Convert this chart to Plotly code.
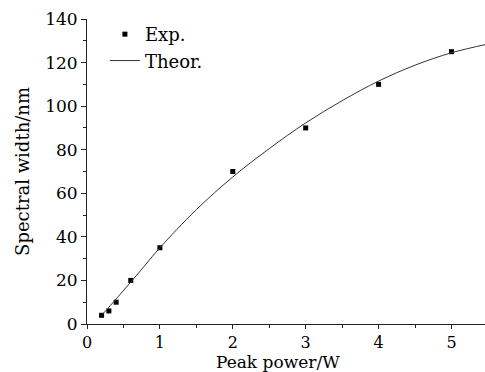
import plotly.graph_objects as go

# Experimental data
exp_power = [0.2, 0.3, 0.4, 0.6, 1.0, 2.0, 3.0, 4.0, 5.0]
exp_width = [4, 6, 10, 20, 35, 70, 90, 110, 125]

# Theoretical curve
theo_power = [0.2, 0.4, 0.6, 0.8, 1.0, 1.5, 2.0, 2.5, 3.0, 3.5, 4.0, 4.5, 5.0, 5.5]
theo_width = [4, 11.5, 19.2, 27.1, 35, 52.5, 67.5, 80.5, 92.3, 102.5, 111.5, 118.8, 124.5, 128.5]

x_ticks = [0, 1, 2, 3, 4, 5]
y_ticks = [0, 20, 40, 60, 80, 100, 120, 140]

FONT = "DejaVu Serif"

fig = go.Figure()
fig.add_trace(go.Scatter(
    x=exp_power, y=exp_width, mode="markers", name="Exp.",
    marker=dict(symbol="square", size=5, color="black"),
))
fig.add_trace(go.Scatter(
    x=theo_power, y=theo_width, mode="lines", name="Theor.",
    line=dict(color="#333333", width=1, shape="spline"),
))

axis_common = dict(
    showgrid=False, zeroline=False, showline=True, linecolor="#222222",
    linewidth=1, ticks="outside", tickcolor="#222222",
)

fig.update_layout(
    width=485, height=372,
    margin=dict(l=87, r=0, t=19, b=48),
    paper_bgcolor="white", plot_bgcolor="white",
    font=dict(family=FONT, color="black"),
    showlegend=True,
    legend=dict(
        x=0.045, y=1.01, xanchor="left", yanchor="top",
        bgcolor="rgba(0,0,0,0)", font=dict(family=FONT, size=18),
        tracegroupgap=0, itemwidth=30,
    ),
    xaxis=dict(
        range=[0, 5.46], tickvals=x_ticks, ticklen=4,
        tickfont=dict(family=FONT, size=16, color="black"),
        minor=dict(ticks="outside", ticklen=3, dtick=0.5, tickcolor="#222222"),
        **axis_common,
    ),
    yaxis=dict(
        range=[0, 140], tickvals=y_ticks, ticklen=5,
        tickfont=dict(family=FONT, size=17, color="black"),
        title=dict(text="Spectral width/nm", font=dict(family=FONT, size=18), standoff=10),
        minor=dict(ticks="outside", ticklen=3, dtick=10, tickcolor="#222222"),
        **axis_common,
    ),
    annotations=[dict(
        text="Peak power/W", xref="paper", yref="paper", x=0.48, y=0,
        xanchor="center", yanchor="bottom", yshift=-50, showarrow=False,
        font=dict(family=FONT, size=17, color="black"),
    )],
)

fig.write_html("out.html")
